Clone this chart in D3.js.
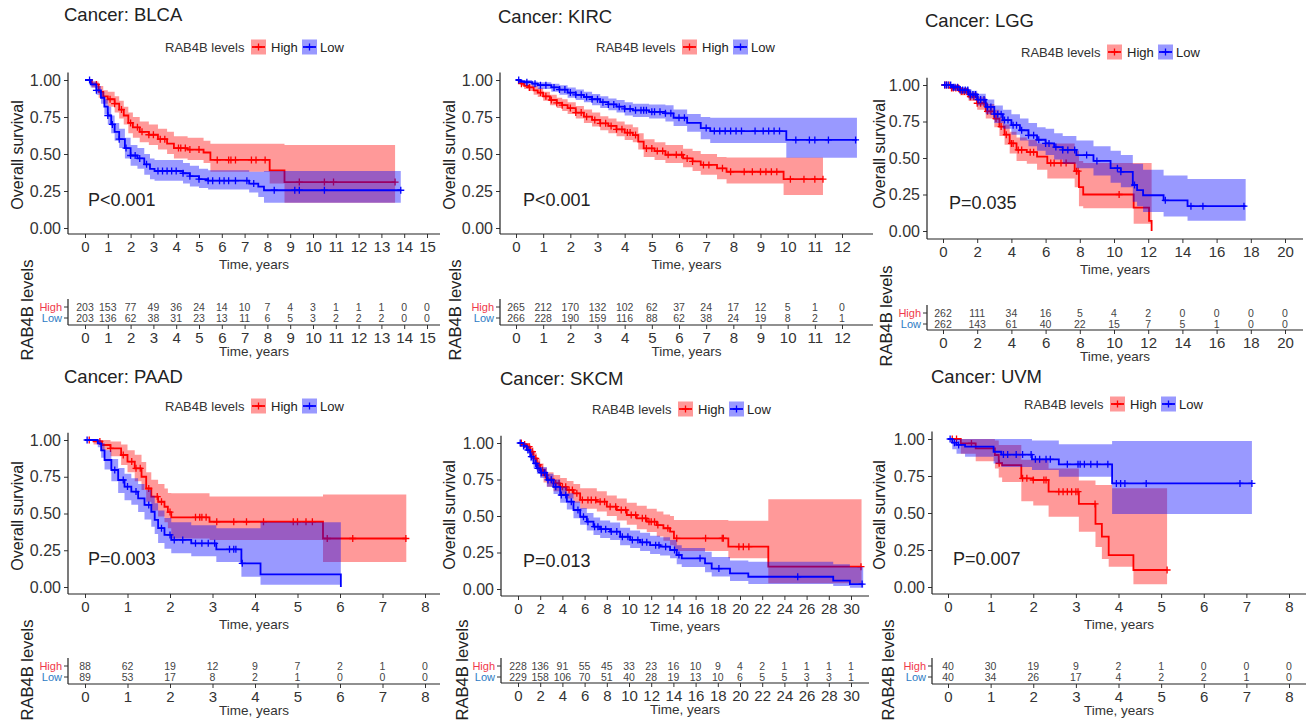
<!DOCTYPE html>
<html>
<head>
<meta charset="utf-8">
<script src="https://cdn.jsdelivr.net/npm/d3@7"></script>
<style>
  body { margin: 0; background: #fff; }
  svg text { font-family: "Liberation Sans", Arial, Helvetica, sans-serif; }
</style>
</head>
<body>
<svg id="chart" width="1311" height="721"></svg>
<script>
// ---- data: step points are [time, survival, lower CI, upper CI] ----

var blcaHigh = [[0,1,1,1],[0.3,0.97,0.95,0.99],[0.6,0.92,0.88,0.96],[0.8,0.89,0.84,0.93],[1.0,0.87,0.82,0.92],
  [1.3,0.84,0.78,0.89],[1.5,0.80,0.74,0.86],[1.7,0.76,0.70,0.82],[1.9,0.71,0.64,0.78],[2.1,0.68,0.61,0.75],
  [2.4,0.65,0.58,0.72],[2.8,0.63,0.56,0.70],[3.2,0.60,0.53,0.67],[3.6,0.57,0.50,0.65],[3.9,0.54,0.47,0.62],
  [4.5,0.53,0.46,0.61],[5.2,0.51,0.44,0.59],[5.5,0.46,0.38,0.57],[8.1,0.39,0.30,0.57],[8.75,0.31,0.17,0.56],[13.6,0.31,0.17,0.56]];
var blcaLow = [[0,1,1,1],[0.25,0.97,0.95,0.99],[0.5,0.93,0.90,0.96],[0.7,0.88,0.84,0.92],[0.85,0.82,0.77,0.87],
  [1.0,0.76,0.70,0.82],[1.15,0.70,0.64,0.76],[1.3,0.65,0.59,0.71],[1.5,0.60,0.54,0.67],[1.75,0.54,0.47,0.61],
  [2.0,0.49,0.42,0.56],[2.3,0.47,0.40,0.54],[2.6,0.43,0.36,0.50],[2.85,0.40,0.33,0.47],[3.05,0.385,0.32,0.46],
  [4.3,0.37,0.30,0.44],[4.6,0.35,0.28,0.42],[5.0,0.33,0.27,0.40],[5.4,0.32,0.26,0.39],[7.2,0.30,0.24,0.38],
  [7.6,0.28,0.21,0.38],[7.85,0.255,0.17,0.385],[13.85,0.255,0.17,0.385]];
var blcaHighCens = [0.5,1.1,1.3,1.6,2.0,2.3,2.5,2.8,3.0,3.3,3.5,4.1,4.2,4.4,4.6,5.0,5.8,6.3,6.4,6.6,7.3,7.5,7.9,9.4,10.5,10.9,13.6];
var blcaLowCens = [0.2,0.5,1.0,1.2,1.5,1.8,2.0,2.2,2.4,2.7,3.2,3.4,3.6,3.8,4.0,4.3,4.6,5.0,5.4,5.6,5.9,6.1,6.3,6.6,7.1,7.4,8.3,9.2,9.4,10.5,13.85];
var blcaRiskHigh = [203,153,77,49,36,24,14,10,7,4,3,1,1,1,0,0];
var blcaRiskLow = [203,136,62,38,31,23,13,11,6,5,3,2,2,2,0,0];
var blcaTicks = [0,1,2,3,4,5,6,7,8,9,10,11,12,13,14,15];

var kircHigh = [[0,1,1,1],[0.1,0.99,0.98,1.0],[0.2,0.975,0.96,0.99],[0.3,0.96,0.94,0.98],[0.45,0.95,0.925,0.97],
  [0.65,0.93,0.90,0.96],[0.8,0.915,0.885,0.945],[1.0,0.89,0.86,0.92],[1.25,0.865,0.83,0.90],[1.5,0.845,0.81,0.88],
  [1.7,0.83,0.79,0.87],[1.9,0.81,0.77,0.85],[2.2,0.78,0.74,0.825],[2.5,0.752,0.71,0.80],[2.8,0.73,0.685,0.78],
  [3.1,0.707,0.66,0.755],[3.4,0.69,0.64,0.74],[3.7,0.667,0.62,0.72],[4.0,0.645,0.595,0.70],[4.3,0.628,0.58,0.68],
  [4.5,0.583,0.53,0.64],[4.7,0.538,0.48,0.60],[5.1,0.52,0.46,0.58],[5.5,0.495,0.44,0.56],[6.15,0.47,0.41,0.535],
  [6.5,0.45,0.385,0.52],[6.8,0.426,0.36,0.50],[7.4,0.403,0.33,0.48],[7.75,0.38,0.30,0.477],[9.85,0.33,0.223,0.477],
  [11.3,0.33,0.223,0.477]];
var kircLow = [[0,1,1,1],[0.15,0.99,0.98,1.0],[0.3,0.985,0.97,1.0],[0.6,0.975,0.955,0.99],[0.8,0.965,0.94,0.985],
  [1.3,0.95,0.92,0.975],[1.6,0.935,0.90,0.965],[1.9,0.915,0.88,0.95],[2.2,0.90,0.865,0.935],[2.5,0.885,0.85,0.92],
  [2.8,0.87,0.83,0.905],[3.1,0.85,0.81,0.89],[3.4,0.835,0.795,0.875],[3.7,0.82,0.78,0.865],[4.0,0.805,0.76,0.85],
  [4.3,0.795,0.75,0.84],[4.9,0.785,0.74,0.835],[5.5,0.775,0.72,0.83],[5.8,0.745,0.69,0.80],[6.3,0.71,0.65,0.77],
  [6.8,0.675,0.60,0.75],[7.15,0.655,0.575,0.745],[9.95,0.595,0.475,0.745],[12.55,0.595,0.475,0.745]];
var kircHighCens = [0.2,0.5,0.9,1.1,1.3,1.5,1.7,2.0,2.2,2.4,2.6,2.9,3.1,3.3,3.5,3.7,3.9,4.1,4.2,4.4,4.8,5.0,5.2,5.4,
  5.6,5.9,6.1,6.3,6.5,6.9,7.1,7.6,7.9,8.4,8.7,9.0,9.2,9.4,9.6,10.1,10.6,11.0,11.3];
var kircLowCens = [0.1,0.4,0.7,0.9,1.1,1.4,1.6,1.8,2.0,2.2,2.4,2.6,2.8,3.0,3.2,3.4,3.6,3.8,4.0,4.2,4.4,4.6,4.7,4.8,
  5.0,5.1,5.3,5.5,5.7,6.0,6.2,7.0,7.3,7.5,7.7,7.9,8.1,8.3,8.8,9.1,9.3,9.5,9.7,10.3,10.8,11.0,11.5,12.5];
var kircRiskHigh = [265,212,170,132,102,62,37,24,17,12,5,1,0];
var kircRiskLow = [266,228,190,159,116,88,62,38,24,19,8,2,1];
var kircTicks = [0,1,2,3,4,5,6,7,8,9,10,11,12];

var lggHigh = [[0,1,1,1],[0.5,0.98,0.96,1.0],[1.0,0.955,0.93,0.98],[1.5,0.92,0.89,0.95],[2.0,0.875,0.83,0.92],
  [2.5,0.82,0.77,0.87],[3.0,0.77,0.71,0.83],[3.3,0.715,0.65,0.78],[3.6,0.66,0.59,0.73],[3.9,0.60,0.53,0.68],
  [4.3,0.555,0.48,0.64],[4.9,0.54,0.46,0.625],[5.5,0.51,0.42,0.60],[6.1,0.465,0.36,0.60],[7.7,0.41,0.30,0.55],
  [7.95,0.30,0.17,0.48],[8.2,0.25,0.155,0.465],[11.15,0.16,0.05,0.465],[12.05,0.07,0.05,0.465],[12.2,0.0,0.05,0.465]];
var lggLow = [[0,1,1,1],[0.5,0.985,0.97,1.0],[1.0,0.965,0.94,0.985],[1.5,0.935,0.90,0.96],[2.0,0.90,0.86,0.94],
  [2.5,0.85,0.80,0.90],[3.0,0.80,0.74,0.86],[3.5,0.76,0.70,0.83],[4.0,0.725,0.66,0.80],[4.5,0.69,0.62,0.77],
  [5.0,0.655,0.58,0.74],[5.5,0.625,0.55,0.71],[6.0,0.60,0.52,0.70],[6.5,0.575,0.49,0.67],[7.0,0.555,0.46,0.65],
  [7.8,0.52,0.43,0.62],[8.8,0.48,0.38,0.58],[9.8,0.43,0.33,0.55],[10.4,0.405,0.30,0.52],[11.1,0.315,0.20,0.46],
  [11.35,0.28,0.17,0.46],[11.7,0.245,0.13,0.42],[12.9,0.21,0.10,0.38],[14.3,0.17,0.07,0.356],[17.7,0.17,0.07,0.356]];
var lggHighCens = [0.1,0.2,0.35,0.5,0.6,0.75,0.9,1.1,1.25,1.4,1.6,1.8,2.0,2.2,2.4,2.6,2.8,3.1,3.4,3.7,4.0,4.1,4.4,
  4.6,5.1,5.3,6.3,6.5,6.9,7.2,7.8,7.9,10.3];
var lggLowCens = [0.1,0.2,0.3,0.45,0.6,0.7,0.85,1.0,1.15,1.3,1.45,1.6,1.75,1.9,2.05,2.2,2.4,2.6,2.8,3.0,3.2,3.4,3.6,
  3.8,4.1,4.3,4.6,5.0,5.3,5.6,6.0,6.2,6.6,7.0,7.3,7.7,8.4,9.0,10.2,10.4,11.2,13.0,14.5,15.2,17.6];
var lggRiskHigh = [262,111,34,16,5,4,2,0,0,0,0];
var lggRiskLow = [262,143,61,40,22,15,7,5,1,0,0];
var lggTicks = [0,2,4,6,8,10,12,14,16,18,20];

var paadHigh = [[0,1,1,1],[0.2,0.99,0.97,1.0],[0.4,0.966,0.93,1.0],[0.6,0.943,0.89,0.99],[0.85,0.898,0.83,0.97],
  [1.0,0.853,0.78,0.93],[1.17,0.807,0.72,0.90],[1.33,0.75,0.66,0.85],[1.44,0.67,0.58,0.78],[1.56,0.615,0.52,0.73],
  [1.72,0.58,0.48,0.70],[1.87,0.546,0.44,0.67],[1.95,0.51,0.40,0.64],[2.03,0.474,0.33,0.637],[2.93,0.444,0.32,0.615],
  [5.6,0.33,0.17,0.63],[7.56,0.33,0.17,0.63]];
var paadLow = [[0,1,1,1],[0.3,0.977,0.95,1.0],[0.38,0.93,0.88,0.98],[0.46,0.864,0.80,0.93],[0.62,0.796,0.72,0.87],
  [0.78,0.728,0.64,0.81],[0.93,0.683,0.59,0.77],[1.09,0.649,0.56,0.74],[1.25,0.603,0.51,0.70],[1.4,0.558,0.46,0.66],
  [1.56,0.512,0.41,0.62],[1.64,0.456,0.36,0.57],[1.72,0.40,0.30,0.52],[1.87,0.354,0.26,0.47],[2.03,0.32,0.23,0.44],
  [2.5,0.297,0.21,0.42],[3.09,0.256,0.17,0.40],[3.68,0.161,0.07,0.40],[4.13,0.086,0.015,0.44],[6.02,0.0,0.015,0.44]];
var paadHighCens = [0.1,0.35,0.6,0.9,1.1,1.2,1.3,1.5,1.7,1.8,2.0,2.6,2.7,2.75,2.85,3.1,3.5,3.8,4.2,4.9,5.0,5.2,5.35,5.7,6.3,7.55];
var paadLowCens = [0.05,0.7,0.9,1.0,1.2,1.5,1.8,2.0,2.1,2.3,2.6,2.75,2.9,3.05,3.4,3.5,3.55,3.7];
var paadRiskHigh = [88,62,19,12,9,7,2,1,0];
var paadRiskLow = [89,53,17,8,2,1,0,0,0];
var paadTicks = [0,1,2,3,4,5,6,7,8];

var skcmHigh = [[0,1,1,1],[0.5,0.99,0.97,1.0],[0.8,0.975,0.95,1.0],[1.1,0.94,0.91,0.97],[1.4,0.895,0.86,0.93],
  [1.7,0.85,0.81,0.89],[2.0,0.815,0.77,0.86],[2.3,0.78,0.73,0.83],[2.6,0.75,0.70,0.80],[3.2,0.724,0.67,0.78],
  [3.8,0.70,0.645,0.76],[4.4,0.678,0.62,0.74],[5.0,0.655,0.59,0.72],[5.6,0.61,0.55,0.69],[7.1,0.598,0.53,0.67],
  [8.0,0.564,0.50,0.64],[8.9,0.541,0.47,0.62],[9.8,0.507,0.44,0.59],[10.7,0.484,0.41,0.57],[11.6,0.461,0.39,0.55],
  [12.5,0.438,0.36,0.53],[13.1,0.416,0.33,0.51],[13.7,0.393,0.30,0.50],[14.05,0.347,0.26,0.473],[18.95,0.29,0.21,0.468],
  [22.55,0.153,0.04,0.614],[30.95,0.153,0.04,0.614]];
var skcmLow = [[0,1,1,1],[0.5,0.98,0.96,1.0],[0.8,0.952,0.93,0.98],[1.1,0.906,0.875,0.94],[1.4,0.86,0.825,0.895],
  [1.7,0.826,0.79,0.865],[2.0,0.797,0.76,0.835],[2.6,0.747,0.70,0.79],[3.2,0.70,0.65,0.75],[3.8,0.644,0.59,0.70],
  [4.4,0.598,0.545,0.655],[5.0,0.541,0.485,0.60],[5.6,0.495,0.44,0.555],[6.2,0.461,0.40,0.52],[6.8,0.427,0.37,0.49],
  [7.4,0.41,0.35,0.47],[8.3,0.393,0.335,0.455],[9.2,0.358,0.30,0.42],[10.1,0.336,0.28,0.40],[11.0,0.32,0.26,0.385],
  [11.9,0.30,0.24,0.365],[12.8,0.29,0.23,0.355],[13.7,0.267,0.21,0.335],[14.3,0.233,0.17,0.30],[14.75,0.21,0.15,0.28],
  [16.85,0.176,0.115,0.255],[17.45,0.14,0.085,0.22],[19.1,0.107,0.055,0.195],[20.75,0.084,0.035,0.187],
  [28.4,0.057,0.02,0.17],[29.9,0.034,0.008,0.15],[31.1,0.034,0.008,0.15]];
var skcmHighCens = [0.3,0.6,1.0,1.3,1.6,1.9,2.2,2.5,3.0,3.4,3.7,4.0,4.3,4.6,4.9,5.3,5.8,6.3,6.6,7.0,7.4,7.8,8.3,8.8,
  9.3,9.7,10.2,10.6,11.2,11.5,11.8,12.0,12.3,12.6,13.5,14.3,16.9,18.4,18.5,19.9,20.3,20.8,30.9];
var skcmLowCens = [0.2,0.5,0.9,1.2,1.6,1.8,2.1,2.4,2.7,3.0,3.4,3.9,4.3,4.8,5.4,5.9,6.3,6.9,7.2,7.5,7.9,8.4,8.9,9.4,
  9.9,10.3,10.8,11.2,11.6,12.4,12.7,13.3,14.1,14.5,16.4,18.1,25.2,31.0];
var skcmRiskHigh = [228,136,91,55,45,33,23,16,10,9,4,2,1,1,1,1];
var skcmRiskLow = [229,158,106,70,51,40,28,19,13,10,6,5,5,3,3,1];
var skcmTicks = [0,2,4,6,8,10,12,14,16,18,20,22,24,26,28,30];

var uvmHigh = [[0,1,1,1],[0.3,0.97,0.90,1.0],[0.65,0.937,0.85,1.0],[1.1,0.892,0.80,0.99],[1.19,0.836,0.74,0.96],
  [1.27,0.824,0.71,0.96],[1.72,0.734,0.58,0.86],[2.0,0.723,0.55,0.86],[2.36,0.644,0.475,0.80],[3.07,0.561,0.374,0.72],
  [3.46,0.426,0.27,0.69],[3.61,0.34,0.19,0.69],[3.77,0.216,0.137,0.69],[3.85,0.216,0.137,0.667],[4.35,0.115,0.018,0.667],
  [5.14,0.115,0.018,0.667]];
var uvmLow = [[0,1,1,1],[0.1,0.975,0.93,1.0],[0.2,0.96,0.90,1.0],[0.4,0.948,0.88,1.0],[1.07,0.914,0.835,1.0],
  [1.25,0.895,0.81,1.0],[1.97,0.863,0.79,0.99],[2.6,0.829,0.745,0.964],[3.85,0.70,0.493,0.986],[7.13,0.70,0.493,0.986]];
var uvmHighCens = [0.1,0.2,0.55,1.2,1.75,1.85,2.0,2.25,2.3,2.6,2.7,2.8,2.9,3.0,3.05,3.45,5.14];
var uvmLowCens = [0.05,0.15,0.25,1.3,1.4,1.6,1.75,1.95,2.05,2.15,2.3,2.4,2.8,3.05,3.1,3.2,3.35,3.5,3.75,3.95,4.05,4.15,4.65,6.85,7.13];
var uvmRiskHigh = [40,30,19,9,2,1,0,0,0];
var uvmRiskLow = [40,34,26,17,4,2,2,1,0];
var uvmTicks = [0,1,2,3,4,5,6,7,8];

// ---- panel placement (pixels) ----
var panels = [
  { name: 'BLCA', pval: 'P<0.001', high: blcaHigh, low: blcaLow, highCens: blcaHighCens, lowCens: blcaLowCens,
    riskHigh: blcaRiskHigh, riskLow: blcaRiskLow, ticks: blcaTicks,
    L: { ax: 68, x0: 85, x1: 427, tmax: 15, xEnd: 440, y1: 80, y0: 228, xAxisY: 234, titleX: 64, titleY: 21,
         legX: 165, legY: 47, survX: 17, survY: 155, riskY: 307, riskAxisY: 325, riskLabX: 27, riskLabY: 310, pvX: 88 } },
  { name: 'KIRC', pval: 'P<0.001', high: kircHigh, low: kircLow, highCens: kircHighCens, lowCens: kircLowCens,
    riskHigh: kircRiskHigh, riskLow: kircRiskLow, ticks: kircTicks,
    L: { ax: 500, x0: 516, x1: 842, tmax: 12, xEnd: 873, y1: 80, y0: 228, xAxisY: 234, titleX: 498, titleY: 23,
         legX: 596, legY: 47, survX: 449, survY: 155, riskY: 307, riskAxisY: 325, riskLabX: 455, riskLabY: 310, pvX: 523 } },
  { name: 'LGG', pval: 'P=0.035', high: lggHigh, low: lggLow, highCens: lggHighCens, lowCens: lggLowCens,
    riskHigh: lggRiskHigh, riskLow: lggRiskLow, ticks: lggTicks,
    L: { ax: 927, x0: 943, x1: 1285, tmax: 20, xEnd: 1303, y1: 85, y0: 231, xAxisY: 239, titleX: 925, titleY: 27,
         legX: 1021, legY: 52, survX: 879, survY: 154, riskY: 313, riskAxisY: 330, riskLabX: 886, riskLabY: 316, pvX: 949 } },
  { name: 'PAAD', pval: 'P=0.003', high: paadHigh, low: paadLow, highCens: paadHighCens, lowCens: paadLowCens,
    riskHigh: paadRiskHigh, riskLow: paadRiskLow, ticks: paadTicks,
    L: { ax: 68, x0: 85, x1: 425, tmax: 8, xEnd: 440, y1: 440, y0: 587, xAxisY: 594, titleX: 64, titleY: 383,
         legX: 165, legY: 406, survX: 17, survY: 516, riskY: 666, riskAxisY: 684, riskLabX: 27, riskLabY: 670, pvX: 88 } },
  { name: 'SKCM', pval: 'P=0.013', high: skcmHigh, low: skcmLow, highCens: skcmHighCens, lowCens: skcmLowCens,
    riskHigh: skcmRiskHigh, riskLow: skcmRiskLow, ticks: skcmTicks,
    L: { ax: 501, x0: 518, x1: 851, tmax: 30, xEnd: 869, y1: 443, y0: 589, xAxisY: 596, titleX: 500, titleY: 385,
         legX: 592, legY: 409, survX: 449, survY: 515, riskY: 666, riskAxisY: 683, riskLabX: 462, riskLabY: 670, pvX: 523 } },
  { name: 'UVM', pval: 'P=0.007', high: uvmHigh, low: uvmLow, highCens: uvmHighCens, lowCens: uvmLowCens,
    riskHigh: uvmRiskHigh, riskLow: uvmRiskLow, ticks: uvmTicks,
    L: { ax: 932, x0: 948, x1: 1289, tmax: 8, xEnd: 1306, y1: 439, y0: 587, xAxisY: 594, titleX: 931, titleY: 383,
         legX: 1024, legY: 404, survX: 879, survY: 515, riskY: 666, riskAxisY: 684, riskLabX: 888, riskLabY: 670, pvX: 953 } }
];

var svg = d3.select('#chart');
var groups = [
  { key: 'high', label: 'High', line: '#ff0000', band: 'rgba(255,0,0,0.4)', riskCol: '#f0394a' },
  { key: 'low',  label: 'Low',  line: '#0000ff', band: 'rgba(0,0,255,0.4)', riskCol: '#2c7bc4' }
];

function survAt(steps, t) {
  var s = steps[0][1];
  steps.forEach(function(d) { if (d[0] <= t) s = d[1]; });
  return s;
}

function plus(g, cx, cy, col) {
  g.append('path')
    .attr('d', 'M' + (cx - 3.5) + ',' + cy + 'h7M' + cx + ',' + (cy - 3.5) + 'v7')
    .attr('stroke', col).attr('stroke-width', 1.3).attr('fill', 'none');
}

function drawPanel(p) {
  var L = p.L;
  var g = svg.append('g');
  var x = d3.scaleLinear().domain([0, L.tmax]).range([L.x0, L.x1]);
  var y = d3.scaleLinear().domain([0, 1]).range([L.y0, L.y1]);

  // title
  g.append('text').attr('x', L.titleX).attr('y', L.titleY)
    .attr('font-size', 18.5).attr('fill', '#222').text('Cancer: ' + p.name);

  // legend
  var leg = g.append('g');
  leg.append('text').attr('x', L.legX).attr('y', L.legY).attr('dy', '0.35em')
    .attr('font-size', 13).attr('fill', '#333').text('RAB4B levels');
  var offs = [[86, 106], [137, 155]];
  groups.forEach(function(gr, i) {
    var bx = L.legX + offs[i][0];
    leg.append('rect').attr('x', bx).attr('y', L.legY - 7.5).attr('width', 15).attr('height', 15)
      .attr('fill', gr.band);
    leg.append('line').attr('x1', bx + 1).attr('x2', bx + 14).attr('y1', L.legY).attr('y2', L.legY)
      .attr('stroke', gr.line).attr('stroke-width', 1.8);
    plus(leg, bx + 7.5, L.legY, gr.line);
    leg.append('text').attr('x', L.legX + offs[i][1]).attr('y', L.legY).attr('dy', '0.35em')
      .attr('font-size', 13).attr('fill', '#222').text(gr.label);
  });

  // curves, bands, censor marks (red drawn first, blue on top)
  var band = d3.area().curve(d3.curveStepAfter)
    .x(function(d) { return x(d[0]); })
    .y0(function(d) { return y(d[2]); })
    .y1(function(d) { return y(d[3]); });
  var line = d3.line().curve(d3.curveStepAfter)
    .x(function(d) { return x(d[0]); })
    .y(function(d) { return y(d[1]); });

  groups.forEach(function(gr) {
    var steps = p[gr.key];
    g.append('path').datum(steps).attr('d', band).attr('fill', gr.band).attr('stroke', 'none');
    g.append('path').datum(steps).attr('d', line).attr('fill', 'none')
      .attr('stroke', gr.line).attr('stroke-width', 1.8);
    var cg = g.append('g');
    p[gr.key + 'Cens'].forEach(function(t) { plus(cg, x(t), y(survAt(steps, t)), gr.line); });
  });

  // y axis
  var yAx = g.append('g').attr('transform', 'translate(' + L.ax + ',0)')
    .call(d3.axisLeft(y).tickValues([0, 0.25, 0.5, 0.75, 1]).tickFormat(d3.format('.2f')).tickSize(4));
  yAx.select('.domain').remove();
  yAx.selectAll('text').attr('font-size', 16).attr('fill', '#333');
  yAx.selectAll('line').attr('stroke', '#333');
  g.append('line').attr('x1', L.ax).attr('x2', L.ax).attr('y1', y(1.05)).attr('y2', L.xAxisY)
    .attr('stroke', '#222').attr('stroke-width', 1.2);

  // x axis
  function xAxis(yPos) {
    var a = g.append('g').attr('transform', 'translate(0,' + yPos + ')')
      .call(d3.axisBottom(x).tickValues(p.ticks).tickSize(4));
    a.select('.domain').remove();
    a.selectAll('text').attr('font-size', 15).attr('fill', '#333');
    a.selectAll('line').attr('stroke', '#333');
    g.append('line').attr('x1', L.ax).attr('x2', L.xEnd).attr('y1', yPos).attr('y2', yPos)
      .attr('stroke', '#222').attr('stroke-width', 1.2);
  }
  xAxis(L.xAxisY);
  g.append('text').attr('x', (L.ax + L.xEnd) / 2).attr('y', L.xAxisY + 30).attr('dy', '0.35em')
    .attr('text-anchor', 'middle').attr('font-size', 13.5).attr('fill', '#333').text('Time, years');

  // axis title
  g.append('text').attr('transform', 'translate(' + L.survX + ',' + L.survY + ') rotate(-90)')
    .attr('text-anchor', 'middle').attr('dy', '0.35em').attr('font-size', 16).attr('fill', '#222')
    .text('Overall survival');

  // p value
  g.append('text').attr('x', L.pvX).attr('y', y(0.15)).attr('font-size', 18).attr('fill', '#222').text(p.pval);

  // risk table
  var rows = [L.riskY, L.riskY + 11];
  g.append('line').attr('x1', L.ax).attr('x2', L.ax).attr('y1', rows[0] - 8).attr('y2', L.riskAxisY)
    .attr('stroke', '#222').attr('stroke-width', 1.2);
  groups.forEach(function(gr, i) {
    g.append('line').attr('x1', L.ax - 4).attr('x2', L.ax).attr('y1', rows[i]).attr('y2', rows[i])
      .attr('stroke', '#333');
    g.append('text').attr('x', L.ax - 6).attr('y', rows[i]).attr('dy', '0.35em').attr('text-anchor', 'end')
      .attr('font-size', 11).attr('fill', gr.riskCol).text(gr.label);
    var counts = gr.key === 'high' ? p.riskHigh : p.riskLow;
    g.append('g').selectAll('text').data(counts).enter().append('text')
      .attr('x', function(d, j) { return x(p.ticks[j]); })
      .attr('y', rows[i]).attr('dy', '0.35em').attr('text-anchor', 'middle')
      .attr('font-size', 10.5).attr('fill', '#444').text(function(d) { return d; });
  });
  xAxis(L.riskAxisY);
  g.append('text').attr('x', (L.ax + L.xEnd) / 2).attr('y', L.riskAxisY + 26).attr('dy', '0.35em')
    .attr('text-anchor', 'middle').attr('font-size', 13.5).attr('fill', '#333').text('Time, years');
  g.append('text').attr('transform', 'translate(' + L.riskLabX + ',' + L.riskLabY + ') rotate(-90)')
    .attr('text-anchor', 'middle').attr('dy', '0.35em').attr('font-size', 16.5).attr('fill', '#222')
    .text('RAB4B levels');
}

panels.forEach(drawPanel);
</script>
</body>
</html>
